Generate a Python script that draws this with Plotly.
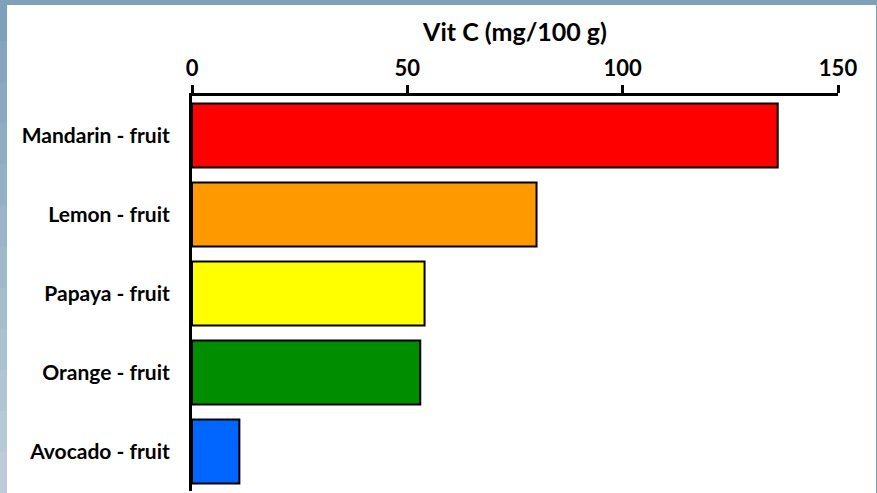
import plotly.graph_objects as go

categories = ["Mandarin - fruit", "Lemon - fruit", "Papaya - fruit", "Orange - fruit", "Avocado - fruit"]
vit_c = [136, 80, 54, 53, 11]
bar_colors = ["#FF0000", "#FF9900", "#FFFF00", "#008E00", "#0066FF"]
tick_vals = [0, 50, 100, 150]

FONT = "Lato"
L, R, T, B = 192, 39, 96, 2
PW, PH = 877 - L - R, 493 - T - B

def px_x(p):
    return (p - L) / PW

def px_y(p):
    return (493 - B - p) / PH

fig = go.Figure()
fig.add_trace(go.Bar(
    y=categories, x=vit_c, orientation="h",
    marker=dict(color=bar_colors, line=dict(color="black", width=2)),
    width=0.81,
))

# left-band gradient of the backdrop
n = 12
c0, c1 = (127, 160, 187), (188, 205, 217)
for i in range(n):
    t = i / (n - 1)
    col = "rgb(%d,%d,%d)" % tuple(round(a + (b - a) * t) for a, b in zip(c0, c1))
    fig.add_shape(type="rect", xref="paper", yref="paper",
                  x0=px_x(0), x1=px_x(7), y0=px_y(493 * (i + 1) / n + 1), y1=px_y(493 * i / n),
                  fillcolor=col, line=dict(width=0), layer="below")

# white card over blue-grey backdrop
fig.add_shape(type="rect", xref="paper", yref="paper",
              x0=px_x(7), x1=px_x(876), y0=px_y(500), y1=px_y(5),
              fillcolor="white", line=dict(width=0), layer="below")

fig.update_layout(
    width=877, height=493,
    margin=dict(l=L, r=R, t=T, b=B),
    paper_bgcolor="#7FA0BB",
    plot_bgcolor="rgba(0,0,0,0)",
    showlegend=False,
    font=dict(family=FONT, color="black"),
    xaxis=dict(
        side="top", range=[0, 150], tickvals=tick_vals,
        showgrid=False, zeroline=False,
        showline=True, linecolor="black", linewidth=3,
        ticks="outside", ticklen=8, tickwidth=3, tickcolor="black",
        tickfont=dict(family=FONT, size=22, color="black", weight="bold"),
        title=dict(text="<b>Vit C (mg/100 g)</b>", font=dict(family=FONT, size=25, color="black"), standoff=6),
    ),
    yaxis=dict(
        categoryorder="array", categoryarray=categories,
        range=[4.5, -0.5],
        showgrid=False, zeroline=False,
        showline=True, linecolor="black", linewidth=3,
        ticks="", ticklabelstandoff=15,
        tickfont=dict(family=FONT, size=21, color="black", weight="bold"),
    ),
    bargap=0.19,
)

fig.write_html("out.html", config={"displayModeBar": False},
               post_script="document.body.style.margin='0';document.body.style.padding='0';")
